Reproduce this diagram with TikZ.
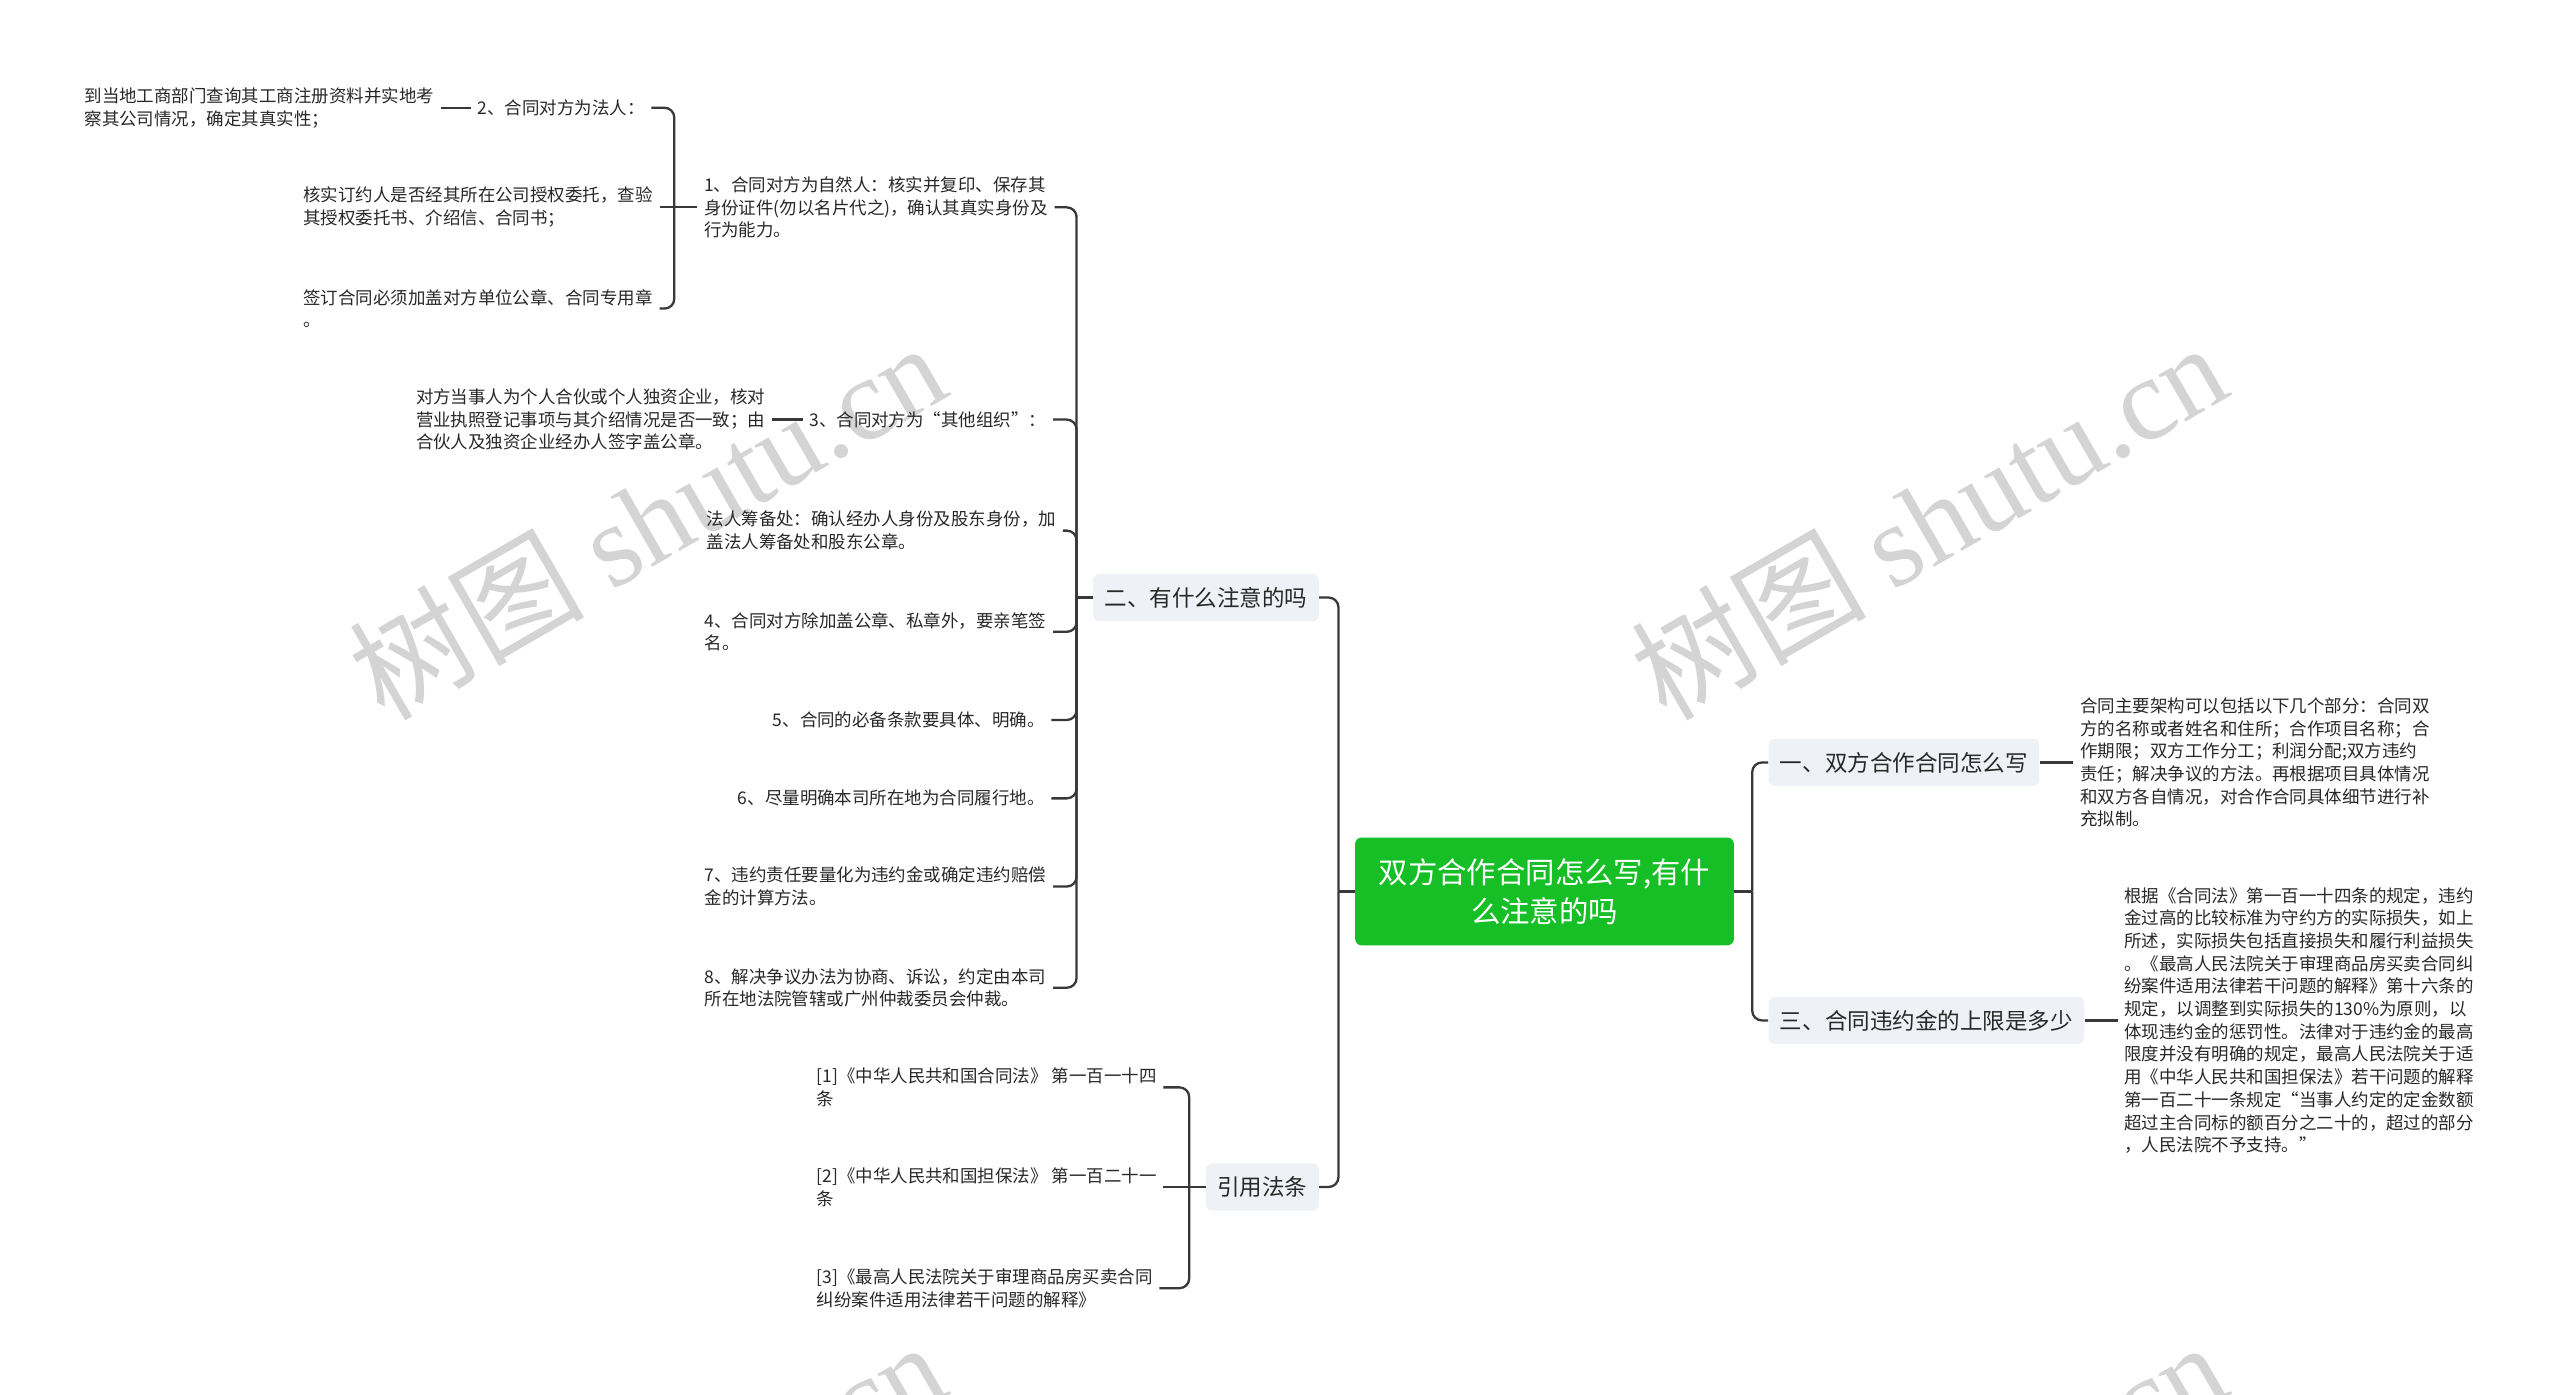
\documentclass[tikz,border=0pt]{standalone}
\usepackage{fontspec}
\setmainfont{Noto Sans CJK SC}
\newfontfamily\wmlat{Liberation Serif}
\usetikzlibrary{calc}
\definecolor{rootgreen}{RGB}{22,191,38}
\definecolor{lvgray}{RGB}{238,241,245}
\definecolor{linec}{RGB}{56,56,56}
\definecolor{txtc}{RGB}{40,40,40}
\definecolor{wmc}{RGB}{212,212,212}
\tikzset{
  leaf/.style={font=\fontsize{10.7}{13.9}\selectfont, text=txtc, align=left, inner xsep=4pt, inner ysep=2pt},
  lone/.style={font=\fontsize{13.8}{17}\selectfont, text=txtc, fill=lvgray, rounded corners=4pt, inner xsep=7pt, inner ysep=0pt, minimum height=29pt},
  rootn/.style={font=\fontsize{18}{24}\selectfont, text=white, fill=rootgreen, rounded corners=4pt, align=center, minimum width=232pt, minimum height=66pt},
  conn/.style={draw=linec, line width=1.4pt, rounded corners=6pt},
  wmark/.style={text=wmc, rotate=30, font=\fontsize{72}{72}\selectfont, inner sep=0pt},
}
\begin{document}
\begin{tikzpicture}[x=1pt,y=-1pt]
\fill[white] (0,0) rectangle (1568,854);
\useasboundingbox (0,0) rectangle (1568,854);
% watermarks
\begin{scope}
\clip (0,0) rectangle (1568,854);
\node[wmark] (wm1) at (396,318) {树图 {\wmlat shutu.cn}};
\node[wmark] (wm2) at (1181,318) {树图 {\wmlat shutu.cn}};
\node[wmark] (wm3) at (396,930) {树图 {\wmlat shutu.cn}};
\node[wmark] (wm4) at (1181,930) {树图 {\wmlat shutu.cn}};
\end{scope}

% root and level 1
\node[rootn] (root) at (946,546) {双方合作合同怎么写,有什\\么注意的吗};
\node[lone, anchor=east] (er) at (808,366) {二、有什么注意的吗};
\node[lone, anchor=east] (yy) at (808,727) {引用法条};
\node[lone, anchor=west] (yi) at (1083,467) {一、双方合作合同怎么写};
\node[lone, anchor=west] (san) at (1083,625) {三、合同违约金的上限是多少};

% children of er
\node[leaf, anchor=west] (n1) at (427,127) {1、合同对方为自然人：核实并复印、保存其\\身份证件(勿以名片代之)，确认其真实身份及\\行为能力。};
\node[leaf, anchor=east] (n3) at (645,257) {3、合同对方为“其他组织”：};
\node[leaf, anchor=east] (nFR) at (651,325) {法人筹备处：确认经办人身份及股东身份，加\\盖法人筹备处和股东公章。};
\node[leaf, anchor=east] (n4) at (645,387) {4、合同对方除加盖公章、私章外，要亲笔签\\名。};
\node[leaf, anchor=east] (n5) at (644,441) {5、合同的必备条款要具体、明确。};
\node[leaf, anchor=east] (n6) at (644,489) {6、尽量明确本司所在地为合同履行地。};
\node[leaf, anchor=east] (n7) at (645,543) {7、违约责任要量化为违约金或确定违约赔偿\\金的计算方法。};
\node[leaf, anchor=east] (n8) at (645,605) {8、解决争议办法为协商、诉讼，约定由本司\\所在地法院管辖或广州仲裁委员会仲裁。};

% children of n1
\node[leaf, anchor=east] (n2) at (399,66) {2、合同对方为法人：};
\node[leaf, anchor=east] (nHS) at (404,127) {核实订约人是否经其所在公司授权委托，查验\\其授权委托书、介绍信、合同书；};
\node[leaf, anchor=east] (nQD) at (404,189) {签订合同必须加盖对方单位公章、合同专用章\\。};
\node[leaf, anchor=east] (n2c) at (270,66) {到当地工商部门查询其工商注册资料并实地考\\察其公司情况，确定其真实性；};
\node[leaf, anchor=east] (n3c) at (473,257) {对方当事人为个人合伙或个人独资企业，核对\\营业执照登记事项与其介绍情况是否一致；由\\合伙人及独资企业经办人签字盖公章。};

% children of yy
\node[leaf, anchor=west] (r1) at (496,666) {[1]《中华人民共和国合同法》 第一百一十四\\条};
\node[leaf, anchor=west] (r2) at (496,727) {[2]《中华人民共和国担保法》 第一百二十一\\条};
\node[leaf, anchor=west] (r3) at (496,789) {[3]《最高人民法院关于审理商品房买卖合同\\纠纷案件适用法律若干问题的解释》};

% right children
\node[leaf, anchor=west] (yic) at (1270,467) {合同主要架构可以包括以下几个部分：合同双\\方的名称或者姓名和住所；合作项目名称；合\\作期限；双方工作分工；利润分配;双方违约\\责任；解决争议的方法。再根据项目具体情况\\和双方各自情况，对合作合同具体细节进行补\\充拟制。};
\node[leaf, anchor=west] (sanc) at (1297,625) {根据《合同法》第一百一十四条的规定，违约\\金过高的比较标准为守约方的实际损失，如上\\所述，实际损失包括直接损失和履行利益损失\\。《最高人民法院关于审理商品房买卖合同纠\\纷案件适用法律若干问题的解释》第十六条的\\规定，以调整到实际损失的130\%为原则，以\\体现违约金的惩罚性。法律对于违约金的最高\\限度并没有明确的规定，最高人民法院关于适\\用《中华人民共和国担保法》若干问题的解释\\第一百二十一条规定“当事人约定的定金数额\\超过主合同标的额百分之二十的，超过的部分\\，人民法院不予支持。”};

% connectors
\coordinate (jL) at ($(root.west)+(-10,0)$);
\draw[conn] (root.west) -- (jL);
\draw[conn] (jL) |- (er.east);
\draw[conn] (jL) |- (yy.east);
\coordinate (jR) at ($(root.east)+(11,0)$);
\draw[conn] (root.east) -- (jR);
\draw[conn] (jR) |- (yi.west);
\draw[conn] (jR) |- (san.west);

\coordinate (j2) at ($(er.west)+(-10,0)$);
\draw[conn] (er.west) -- (j2);
\foreach \c in {n1,n3,nFR,n4,n5,n6,n7,n8} { \draw[conn] (j2) |- (\c.east); }

\coordinate (jY) at ($(yy.west)+(-10,0)$);
\draw[conn] (yy.west) -- (jY);
\draw[conn] (jY) |- (r1.east);
\draw[conn] (jY) -- (jY -| r2.east);
\draw[conn] (jY) |- (r3.east);

\coordinate (j1) at ($(n1.west)+(-14,0)$);
\draw[conn] (n1.west) -- (j1);
\draw[conn] (j1) |- (n2.east);
\draw[conn] (j1) -- (nHS.east);
\draw[conn] (j1) |- (nQD.east);

\draw[conn] (n2.west) -- (n2c.east);
\draw[conn] (n3.west) -- (n3c.east);
\draw[conn] (yi.east) -- (yic.west);
\draw[conn] (san.east) -- (sanc.west);
\end{tikzpicture}
\end{document}
